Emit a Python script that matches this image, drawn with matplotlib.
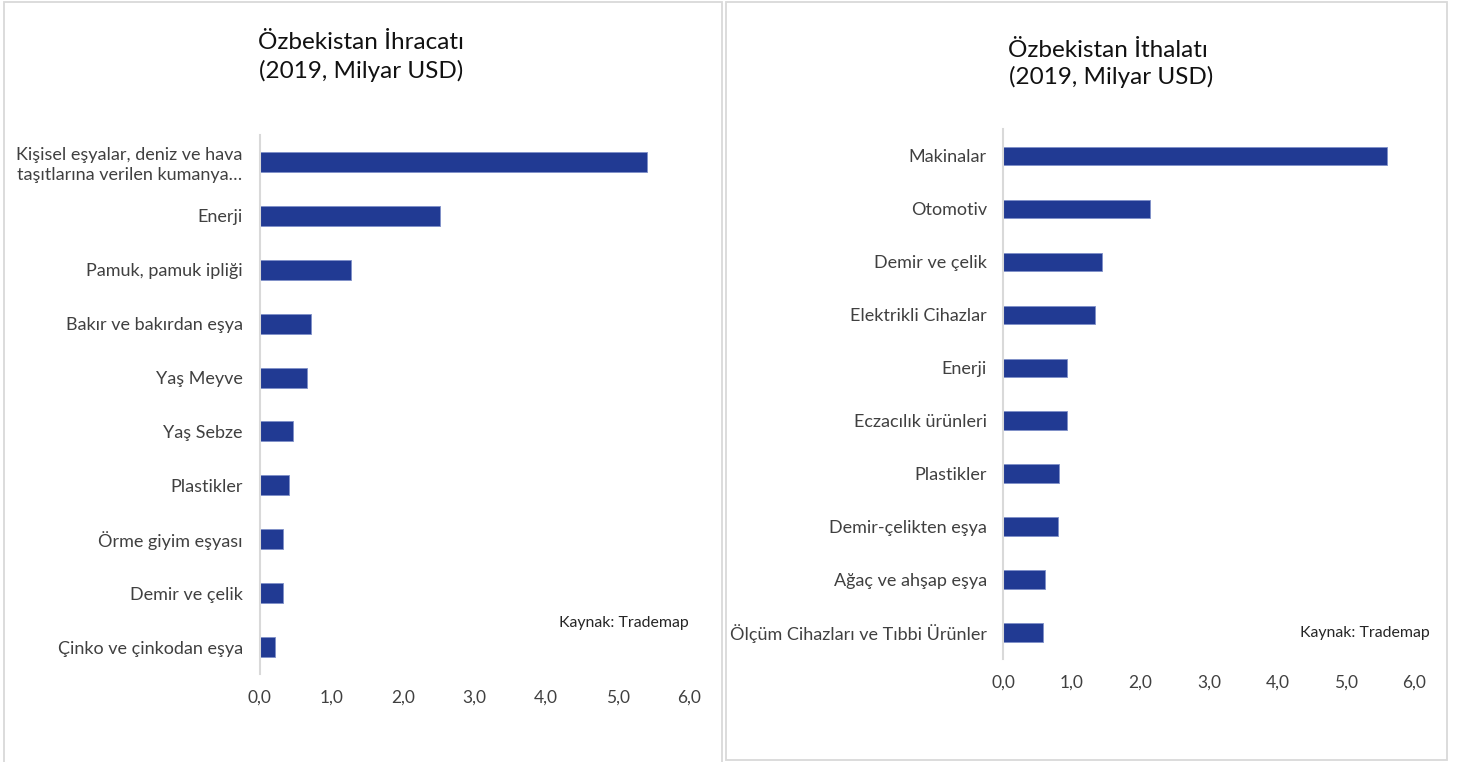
import matplotlib
matplotlib.use("Agg")
import matplotlib.pyplot as plt
from matplotlib.patches import Rectangle

plt.rcParams['font.family'] = ['Lato', 'DejaVu Sans']

exp_categories = ["Kişisel eşyalar, deniz ve hava\ntaşıtlarına verilen kumanya…",
                  "Enerji", "Pamuk, pamuk ipliği", "Bakır ve bakırdan eşya",
                  "Yaş Meyve", "Yaş Sebze", "Plastikler", "Örme giyim eşyası",
                  "Demir ve çelik", "Çinko ve çinkodan eşya"]
exp_values = [5.40, 2.52, 1.28, 0.72, 0.66, 0.47, 0.41, 0.33, 0.33, 0.21]

imp_categories = ["Makinalar", "Otomotiv", "Demir ve çelik", "Elektrikli Cihazlar",
                  "Enerji", "Eczacılık ürünleri", "Plastikler", "Demir-çelikten eşya",
                  "Ağaç ve ahşap eşya", "Ölçüm Cihazları ve Tıbbi Ürünler"]
imp_values = [5.60, 2.14, 1.44, 1.34, 0.93, 0.93, 0.81, 0.79, 0.61, 0.58]

x_ticks = [0, 1, 2, 3, 4, 5, 6]
x_tick_labels = ["0,0", "1,0", "2,0", "3,0", "4,0", "5,0", "6,0"]

exp_title = ["Özbekistan İhracatı", "(2019, Milyar USD)"]
imp_title = ["Özbekistan İthalatı", "(2019, Milyar USD)"]
source = "Kaynak: Trademap"

W, H = 1458, 762
fig = plt.figure(figsize=(W / 100, H / 100), dpi=100)
fig.patch.set_facecolor('white')

BAR = '#213A93'
GRID = '#D9D9D9'
TXT = '#404040'


def px_axes(x0, x1, y0, y1):
    return fig.add_axes([x0 / W, 1 - y1 / H, (x1 - x0) / W, (y1 - y0) / H])


# panel borders
fig.add_artist(Rectangle((3.5 / W, 1 - 800 / H), (721.5 - 3.5) / W, (800 - 1.5) / H,
                         transform=fig.transFigure, fill=False, edgecolor=GRID, lw=1.3))
fig.add_artist(Rectangle((725.5 / W, 1 - 760 / H), (1446.5 - 725.5) / W, (760 - 1.5) / H,
                         transform=fig.transFigure, fill=False, edgecolor=GRID, lw=1.3))


def draw(ax, cats, vals, height, pad_y):
    ypos = list(range(len(cats)))
    ax.barh(ypos, vals, height=height, color=BAR, edgecolor='#7F8FC8', linewidth=0.6)
    ax.set_ylim(len(cats) - 0.5, -0.5)
    ax.set_xlim(0, 6)
    ax.set_yticks(ypos)
    ax.set_yticklabels(cats, fontsize=13, color=TXT, multialignment='center',
                       linespacing=1.3)
    ax.set_xticks(x_ticks)
    ax.set_xticklabels(x_tick_labels, fontsize=12.5, color=TXT)
    ax.tick_params(axis='both', length=0)
    ax.tick_params(axis='y', pad=12)
    ax.tick_params(axis='x', pad=pad_y)
    for s in ['top', 'right', 'bottom']:
        ax.spines[s].set_visible(False)
    ax.spines['left'].set_color(GRID)
    ax.spines['left'].set_linewidth(1.5)
    ax.set_facecolor('none')


ax1 = px_axes(259.5, 689.5, 135, 674)
draw(ax1, exp_categories, exp_values, 0.37, 11)
ax2 = px_axes(1003.5, 1414.5, 129.5, 659)
draw(ax2, imp_categories, imp_values, 0.35, 11)

fig.text(361 / W, 1 - 49 / H, exp_title[0], ha='center', va='baseline', fontsize=17.5, color='#111111')
fig.text(361.5 / W, 1 - 78.5 / H, exp_title[1], ha='center', va='baseline', fontsize=17.5, color='#111111')
fig.text(1108 / W, 1 - 57 / H, imp_title[0], ha='center', va='baseline', fontsize=17.5, color='#111111')
fig.text(1111 / W, 1 - 83.5 / H, imp_title[1], ha='center', va='baseline', fontsize=17.5, color='#111111')

fig.text(689 / W, 1 - 623 / H, source, ha='right', va='center', fontsize=11.4, color='#262626')
fig.text(1430 / W, 1 - 633 / H, source, ha='right', va='center', fontsize=11.4, color='#262626')

fig.savefig('out.png', dpi=100, facecolor='white')
